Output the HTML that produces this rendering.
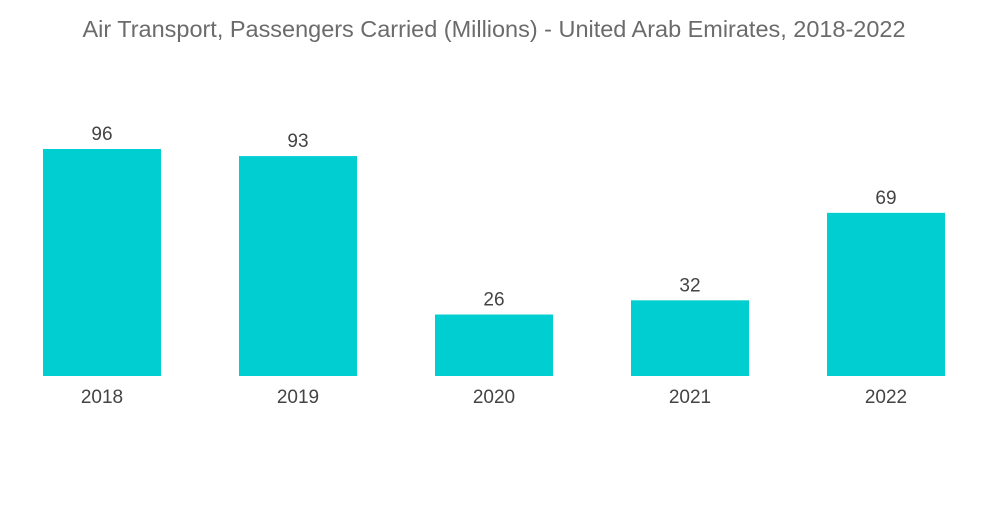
<!DOCTYPE html>
<html><head><meta charset="utf-8"><style>
body{margin:0;background:#fff;width:1000px;height:504px;overflow:hidden;font-family:"Liberation Sans",sans-serif}
</style></head><body>
<svg width="1000" height="504">
<text x="494" y="37" text-anchor="middle" font-size="23" textLength="823" lengthAdjust="spacingAndGlyphs" fill="#6b6b6b">Air Transport, Passengers Carried (Millions) - United Arab Emirates, 2018-2022</text>
<g id="bars"></g>
</svg>
<script>
const categories=["2018","2019","2020","2021","2022"];
const values=[96,93,26,32,69];
const labels=["96","93","26","32","69"];
const g=document.getElementById('bars');
const ns="http://www.w3.org/2000/svg";
const base=376, scale=227/96;
function x(i){return 102+196*i;}
function y(v){return base-v*scale;}
categories.forEach((c,i)=>{
  const r=document.createElementNS(ns,'rect');
  r.setAttribute('x',x(i)-59);r.setAttribute('width',118);
  r.setAttribute('y',y(values[i]));r.setAttribute('height',base-y(values[i]));
  r.setAttribute('fill','#00ced1');
  
  
  g.appendChild(r);
  const t=document.createElementNS(ns,'text');
  t.setAttribute('x',x(i));t.setAttribute('y',y(values[i])-9);
  t.setAttribute('text-anchor','middle');t.setAttribute('font-size','19');t.setAttribute('fill','#444');
  t.textContent=labels[i];
  
  
  g.appendChild(t);
  const a=document.createElementNS(ns,'text');
  a.setAttribute('x',x(i));a.setAttribute('y',403);
  a.setAttribute('text-anchor','middle');a.setAttribute('font-size','19');a.setAttribute('fill','#444');
  a.textContent=c;
  
  
  g.appendChild(a);
});
</script>
</body></html>
